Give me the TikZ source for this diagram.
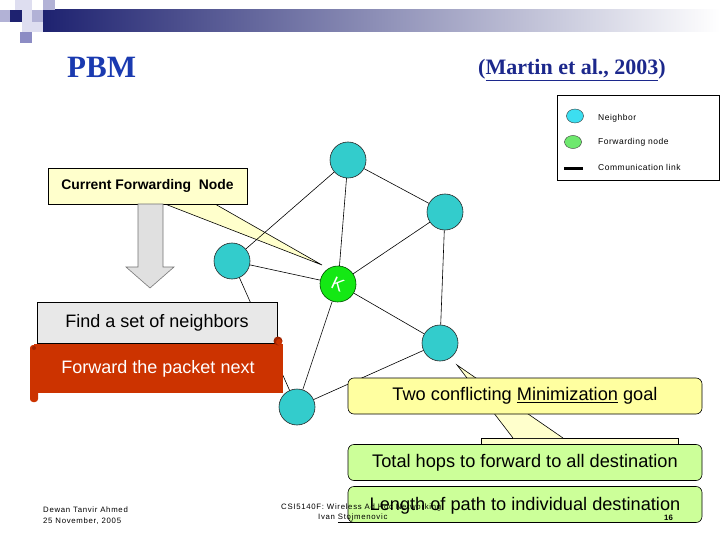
\documentclass[tikz,border=0pt]{standalone}
\usepackage{fontspec}
\setmainfont{Liberation Sans}
\newfontfamily\titlefont{Liberation Serif}
\usepackage{xcolor}
\usetikzlibrary{shapes.geometric}

\definecolor{navy}{RGB}{30,34,112}
\definecolor{sqlight}{RGB}{222,222,240}
\definecolor{sqmid}{RGB}{178,178,214}
\definecolor{sqdark}{RGB}{140,140,196}
\definecolor{titleblue}{RGB}{26,58,176}
\definecolor{refblue}{RGB}{28,40,140}
\definecolor{nbrcyan}{RGB}{51,204,204}
\definecolor{fwdgreen}{RGB}{20,232,20}
\definecolor{legcyan}{RGB}{60,222,240}
\definecolor{leggreen}{RGB}{110,232,110}
\definecolor{noteyellow}{RGB}{255,255,204}
\definecolor{goalyellow}{RGB}{255,255,160}
\definecolor{goalgreen}{RGB}{204,255,153}
\definecolor{boxgray}{RGB}{232,232,232}
\definecolor{scrollred}{RGB}{204,51,0}
\definecolor{scrolldark}{RGB}{160,36,0}

\begin{document}
\begin{tikzpicture}[x=1pt, y=-1pt,
    nbr/.style={circle, draw=black!85, fill=nbrcyan, minimum size=36pt, inner sep=0pt, line width=0.6pt},
    fwd/.style={nbr, fill=fwdgreen, draw=black!70!green},
    link/.style={black, line width=0.6pt},
    notebox/.style={draw, fill=noteyellow, line width=0.6pt, inner sep=0pt},
    goalbox/.style={draw, rounded corners=6pt, minimum width=354pt, minimum height=36pt,
        inner sep=0pt, line width=0.6pt, font=\fontsize{18.2}{21}\selectfont},
    legendtxt/.style={anchor=west, inner sep=0pt, font=\fontsize{8.5}{10}\selectfont\addfontfeature{LetterSpace=6}},
    foot/.style={anchor=west, inner sep=0pt, font=\fontsize{7.8}{9}\selectfont\addfontfeature{LetterSpace=9}}]

    \useasboundingbox (0,0) rectangle (720,540);
    \fill[white] (0,0) rectangle (720,540);

    % Title banner
    \shade[left color=navy, right color=white] (43,10) rectangle (720,32);
    \fill[sqlight] (15,0) rectangle (32,10);
    \fill[sqmid]   (43,0) rectangle (55,10);
    \fill[sqmid]   (0,10) rectangle (10,22);
    \fill[navy]    (10,10) rectangle (22,22);
    \fill[sqlight] (22,10) rectangle (32,22);
    \fill[sqmid]   (32,10) rectangle (43,22);
    \fill[sqlight] (22,22) rectangle (43,32);
    \fill[sqdark]  (20,32) rectangle (32,43);

    \node[anchor=west, inner sep=0pt, text=titleblue,
        font=\titlefont\bfseries\fontsize{31}{33}\selectfont] (title) at (67,67) {PBM};
    \node[anchor=east, inner sep=0pt, text=refblue,
        font=\titlefont\bfseries\fontsize{22}{24}\selectfont] (cite) at (666,70) {(\underline{Martin et al., 2003})};

    % Legend
    \draw[line width=0.6pt] (557,95) rectangle (719,180);
    \node[ellipse, draw=black!80, fill=legcyan, minimum width=17pt, minimum height=14pt, inner sep=0pt] (legnbr) at (575,116) {};
    \node[ellipse, draw=black!80, fill=leggreen, minimum width=17pt, minimum height=13pt, inner sep=0pt] (legfwd) at (573,142) {};
    \coordinate (lega) at (564,169);
    \coordinate (legb) at (583,169);
    \draw[line width=3pt] (lega) -- (legb);
    \node[legendtxt] at (598,118) {Neighbor};
    \node[legendtxt] at (598,142) {Forwarding node};
    \node[legendtxt] at (598,167) {Communication link};

    % Callout for the current forwarding node
    \coordinate (cfntip) at (322,265);
    \filldraw[fill=noteyellow, line width=0.6pt] (165,204) -- (cfntip) -- (215,204) -- cycle;
    \node[notebox, minimum width=199pt, minimum height=36pt,
        font=\bfseries\fontsize{13.9}{16}\selectfont] (cfn) at (147.5,186) {Current Forwarding\ \ Node};

    % Network
    \node[nbr] (top) at (348,160) {};
    \node[nbr] (rup) at (445,212) {};
    \node[nbr] (lft) at (232,261) {};
    \node[nbr] (rlo) at (440,343) {};
    \node[nbr] (bot) at (297,407) {};
    \node[fwd, text=white, font=\fontsize{18}{18}\selectfont, rotate=-25] (k) at (338,284) {K};
    \draw[link] (top) -- (rup);
    \draw[link] (top) -- (lft);
    \draw[link] (lft) -- (bot);
    \draw[link] (rup) -- (rlo);
    \draw[link] (bot) -- (rlo);
    \foreach \n in {top,lft,rup,rlo,bot}
        \draw[link] (\n) -- (k);

    % Down arrow
    \filldraw[fill=black!12, draw=black!55, line width=0.6pt]
        (138,204) -- (163,204) -- (163,267) -- (174,267) -- (150,288)
        -- (126,267) -- (138,267) -- cycle;

    % Steps
    \node[draw, fill=boxgray, line width=0.6pt, minimum width=240pt, minimum height=41pt,
        inner sep=0pt, font=\fontsize{18}{21}\selectfont] (find) at (157,322.5) {Find a set of neighbors};
    \fill[scrollred, rounded corners=3pt] (30,345) rectangle (38,402);
    \fill[scrollred] (34,344) rectangle (283,393);
    \fill[scrolldark] (278,341) circle (4.5);
    \fill[scrollred] (279,342) circle (3);
    \fill[scrolldark] (34,348) circle (2);
    \node[text=white, font=\fontsize{18}{21}\selectfont] (next) at (158,369) {Forward the packet next};

    % Callout for the goals
    \coordinate (goaltip) at (457,365);
    \filldraw[fill=noteyellow, line width=0.6pt] (481,438) rectangle (678,470);
    \fill[noteyellow] (513,438) -- (goaltip) -- (563,438) -- cycle;
    \draw[line width=0.6pt] (513,438) -- (goaltip) -- (563,438);
    \node[goalbox, fill=goalyellow] (goal) at (525,396) {Two conflicting \underline{Minimization} goal};
    \node[goalbox, fill=goalgreen] (hops) at (525,462.5) {Total hops to forward to all destination};
    \node[goalbox, fill=goalgreen, text depth=2pt] (len) at (525,504.5) {Length of path to individual destination};

    % Footer
    \node[foot] at (43,510) {Dewan Tanvir Ahmed};
    \node[foot] at (43,521) {25 November, 2005};
    \node[foot] at (281,507) {CSI5140F: Wireless Ad Hoc Networking};
    \node[foot] at (318,518) {Ivan \underline{Stojmenovic}};
    \node[foot, font=\bfseries\fontsize{7.8}{9}\selectfont] at (664,518) {16};
\end{tikzpicture}
\end{document}
